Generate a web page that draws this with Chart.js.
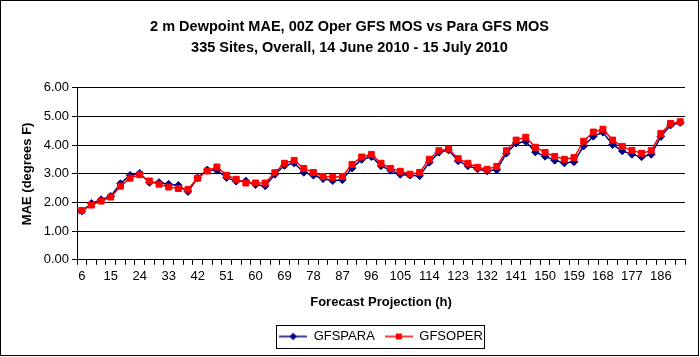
<!DOCTYPE html>
<html>
<head>
<meta charset="utf-8">
<script src="https://cdn.jsdelivr.net/npm/chart.js@4/dist/chart.umd.min.js"></script>
<style>
  html, body { margin: 0; padding: 0; background: #fff; }
  #wrap { width: 700px; height: 357px; }
</style>
</head>
<body>
<div id="wrap"><canvas id="c" width="700" height="357"></canvas></div>
<script>
// Forecast projection hours (every 3 h)
const hours = [6,9,12,15,18,21,24,27,30,33,36,39,42,45,48,51,54,57,60,63,66,69,72,75,78,81,84,87,90,93,96,99,102,105,108,111,114,117,120,123,126,129,132,135,138,141,144,147,150,153,156,159,162,165,168,171,174,177,180,183,186,189,192];
const gfsPara = [1.70,1.97,2.10,2.22,2.66,2.95,3.02,2.70,2.70,2.64,2.60,2.38,2.86,3.14,3.12,2.87,2.74,2.75,2.62,2.58,2.98,3.29,3.38,3.05,2.95,2.83,2.76,2.79,3.20,3.50,3.60,3.28,3.12,2.98,2.95,2.93,3.40,3.75,3.83,3.45,3.28,3.17,3.10,3.14,3.72,4.07,4.13,3.76,3.61,3.47,3.38,3.42,3.97,4.31,4.45,4.02,3.80,3.68,3.59,3.68,4.30,4.70,4.79];
const gfsOper = [1.72,1.91,2.05,2.19,2.57,2.85,2.97,2.75,2.64,2.54,2.49,2.46,2.85,3.10,3.24,2.95,2.81,2.68,2.68,2.68,3.04,3.37,3.47,3.19,3.05,2.91,2.88,2.91,3.33,3.59,3.68,3.37,3.19,3.09,2.99,3.05,3.51,3.81,3.87,3.53,3.37,3.23,3.16,3.26,3.81,4.18,4.28,3.93,3.75,3.61,3.51,3.57,4.14,4.46,4.56,4.18,3.96,3.82,3.72,3.81,4.41,4.76,4.82];
const titleLines = ['2 m Dewpoint MAE, 00Z Oper GFS MOS vs Para GFS MOS', '335 Sites, Overall, 14 June 2010 - 15 July 2010'];
const seriesNames = ['GFSPARA', 'GFSOPER'];

const NAVY = '#000080', RED = '#FF0000';
const FONT = "'Liberation Sans', Arial, sans-serif";

function legendIcon(color, kind) {
  const c = document.createElement('canvas');
  c.width = 28; c.height = 10;
  const g = c.getContext('2d');
  g.strokeStyle = color; g.lineWidth = 1.5;
  g.beginPath(); g.moveTo(0, 5); g.lineTo(28, 5); g.stroke();
  g.fillStyle = color;
  if (kind === 'diamond') {
    g.beginPath(); g.moveTo(14, 1.2); g.lineTo(17.8, 5); g.lineTo(14, 8.8); g.lineTo(10.2, 5); g.closePath(); g.fill();
  } else {
    g.fillRect(11, 2, 6, 6);
  }
  return c;
}
const iconPara = legendIcon(NAVY, 'diamond');
const iconOper = legendIcon(RED, 'square');

const frame = {
  id: 'frame',
  beforeDraw(chart) {
    const ctx = chart.ctx;
    ctx.save();
    ctx.fillStyle = '#fff';
    ctx.fillRect(0, 0, chart.width, chart.height);
    ctx.restore();
  },
  afterDraw(chart) {
    const ctx = chart.ctx;
    ctx.save();
    ctx.strokeStyle = '#000';
    ctx.lineWidth = 1;
    ctx.strokeRect(0.5, 0.5, 698, 355);
    const boxes = chart.legend && chart.legend.legendHitBoxes;
    if (boxes && boxes.length) {
      let x0 = Infinity, x1 = -Infinity, y0 = Infinity, y1 = -Infinity;
      boxes.forEach(b => { x0 = Math.min(x0, b.left); x1 = Math.max(x1, b.left + b.width); y0 = Math.min(y0, b.top); y1 = Math.max(y1, b.top + b.height); });
      ctx.strokeRect(Math.round(x0 - 3) + 0.5, Math.round(y0 - 5) + 0.5, Math.round(x1 - x0 + 4), Math.round(y1 - y0 + 10));
    }
    ctx.restore();
  }
};

new Chart(document.getElementById('c'), {
  type: 'line',
  data: {
    labels: hours,
    datasets: [
      {
        label: seriesNames[0], data: gfsPara, order: 1,
        borderColor: NAVY, backgroundColor: NAVY, borderWidth: 1.5,
        pointStyle: 'rectRot', pointRadius: 3.8, pointBackgroundColor: NAVY, pointBorderColor: NAVY, pointBorderWidth: 1,
        tension: 0, fill: false
      },
      {
        label: seriesNames[1], data: gfsOper, order: 0,
        borderColor: RED, backgroundColor: RED, borderWidth: 1.5,
        pointStyle: 'rect', pointRadius: 4.2, pointBackgroundColor: RED, pointBorderColor: RED, pointBorderWidth: 1,
        tension: 0, fill: false
      }
    ]
  },
  options: {
    responsive: false,
    animation: false,
    devicePixelRatio: 1,
    layout: { padding: { left: 14, right: 15, top: 0, bottom: 4 } },
    plugins: {
      tooltip: { enabled: false },
      title: {
        display: true, text: titleLines, color: '#000',
        font: { family: FONT, size: 14.5, weight: 'bold', lineHeight: 1.48 },
        padding: { top: 16, bottom: 29 }
      },
      legend: {
        display: true, position: 'bottom', fullSize: false,
        labels: {
          usePointStyle: true, pointStyleWidth: 28, padding: 10, color: '#000',
          font: { family: FONT, size: 13 },
          generateLabels(chart) {
            return [
              { text: seriesNames[0], pointStyle: iconPara, datasetIndex: 0, fontColor: '#000', lineWidth: 0, strokeStyle: NAVY, fillStyle: NAVY, hidden: false },
              { text: seriesNames[1], pointStyle: iconOper, datasetIndex: 1, fontColor: '#000', lineWidth: 0, strokeStyle: RED, fillStyle: RED, hidden: false }
            ];
          }
        }
      }
    },
    scales: {
      x: {
        type: 'category', offset: true,
        grid: { display: true, offset: true, drawOnChartArea: false, drawTicks: true, tickLength: 5, color: '#000', lineWidth: 1 },
        border: { display: true, color: '#000', width: 1 },
        ticks: {
          autoSkip: false, maxRotation: 0, minRotation: 0, padding: 4, color: '#000',
          font: { family: FONT, size: 13 },
          callback(v, i) { return i % 3 === 0 ? String(hours[i]) : ''; }
        },
        title: {
          display: true, text: 'Forecast Projection (h)', color: '#000',
          font: { family: FONT, size: 13, weight: 'bold' },
          padding: { top: 6, bottom: 10 }
        }
      },
      y: {
        min: 0, max: 6,
        grid: { display: true, color: '#000', lineWidth: 1, drawTicks: true, tickLength: 5 },
        border: { display: true, color: '#000', width: 1 },
        ticks: {
          stepSize: 1, padding: 3, color: '#000',
          font: { family: FONT, size: 13 },
          callback(v) { return Number(v).toFixed(2); }
        },
        title: {
          display: true, text: 'MAE (degrees F)', color: '#000',
          font: { family: FONT, size: 13, weight: 'bold' },
          padding: { top: 6, bottom: 4 }
        },
        afterFit(scale) { scale.width = 63; }
      }
    }
  },
  plugins: [frame]
});
</script>
</body>
</html>
